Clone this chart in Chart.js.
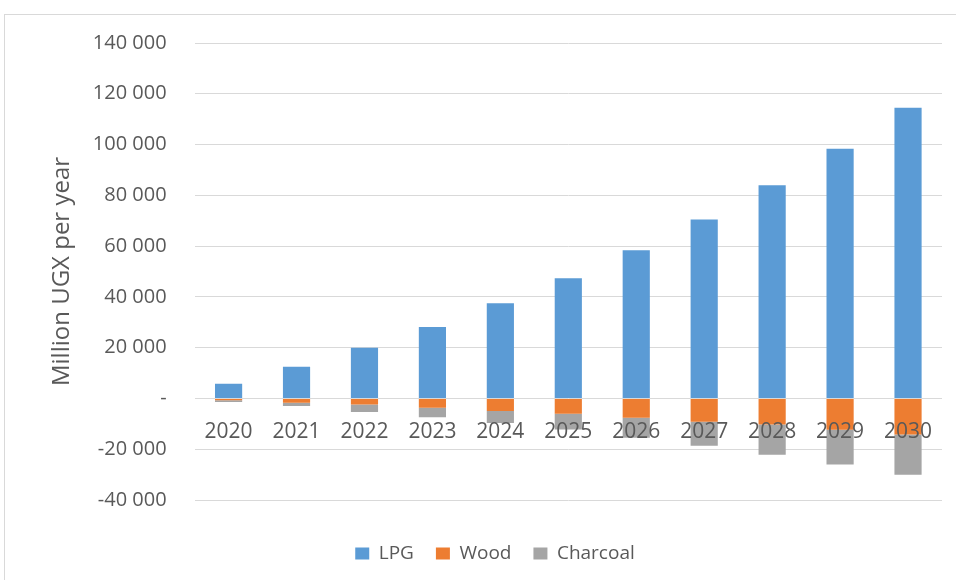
<!DOCTYPE html>
<html>
<head>
<meta charset="utf-8">
<script src="https://cdn.jsdelivr.net/npm/chart.js@4"></script>
<style>
  html, body { margin: 0; padding: 0; background: #fff; overflow: hidden; }
  #frame { position: absolute; left: 4px; top: 14px; width: 960px; height: 580px; border: 1px solid #d9d9d9; }
  #wrap { position: absolute; left: 0; top: 0; width: 956px; height: 580px; }
</style>
</head>
<body>
<div id="frame"></div>
<div id="wrap"><canvas id="grafico"></canvas></div>
<script>
const anos = ["2020", "2021", "2022", "2023", "2024", "2025", "2026", "2027", "2028", "2029", "2030"];
const lpg = [5800, 12500, 20000, 28100, 37500, 47300, 58400, 70500, 84000, 98300, 114500];
const wood = [-700, -1700, -2400, -3700, -4900, -6000, -7600, -9200, -10300, -12300, -14200];
const charcoal = [-700, -1300, -2900, -3700, -4800, -6200, -7900, -9400, -11900, -13700, -15900];

const cinza = "#595959";
const fonte = "'Open Sans', sans-serif";

// number format with space separators, zero shown as a dash
function formata(v) {
  if (v === 0) return "-";
  const s = String(Math.abs(v)).replace(/\B(?=(\d{3})+(?!\d))/g, " ");
  return v < 0 ? "-" + s : s;
}

const ctx = document.getElementById("grafico").getContext("2d");
new Chart(ctx, {
  type: "bar",
  data: {
    labels: anos,
    datasets: [
      { label: "LPG", data: lpg, backgroundColor: "#5b9bd5" },
      { label: "Wood", data: wood, backgroundColor: "#ed7d31" },
      { label: "Charcoal", data: charcoal, backgroundColor: "#a5a5a5" }
    ]
  },
  options: {
    responsive: true,
    maintainAspectRatio: false,
    animation: false,
    datasets: {
      bar: { barPercentage: 0.4, categoryPercentage: 1 }
    },
    layout: { padding: { left: 48, right: 14, top: 43, bottom: 7 } },
    plugins: {
      tooltip: { enabled: false },
      legend: {
        position: "bottom",
        // empty title only adds space above the legend items
        title: { display: true, text: "", padding: { top: 10, bottom: 0 }, font: { size: 10 } },
        labels: {
          boxWidth: 14,
          boxHeight: 12,
          padding: 22,
          color: cinza,
          font: { family: fonte, size: 19 }
        }
      }
    },
    scales: {
      x: {
        stacked: true,
        position: { y: 0 },
        grid: { display: false, drawTicks: false },
        border: { display: false },
        ticks: { z: 1, color: cinza, padding: 21, font: { family: fonte, size: 21 } }
      },
      y: {
        stacked: true,
        min: -40000,
        max: 140000,
        grid: { color: "#d9d9d9", drawTicks: false },
        border: { display: false },
        ticks: {
          stepSize: 20000,
          padding: 28,
          color: cinza,
          font: { family: fonte, size: 20 },
          callback: formata
        },
        title: {
          display: true,
          text: "Million UGX per year",
          color: cinza,
          padding: { top: 0, bottom: -12 },
          font: { family: fonte, size: 24 }
        }
      }
    }
  }
});
</script>
</body>
</html>
